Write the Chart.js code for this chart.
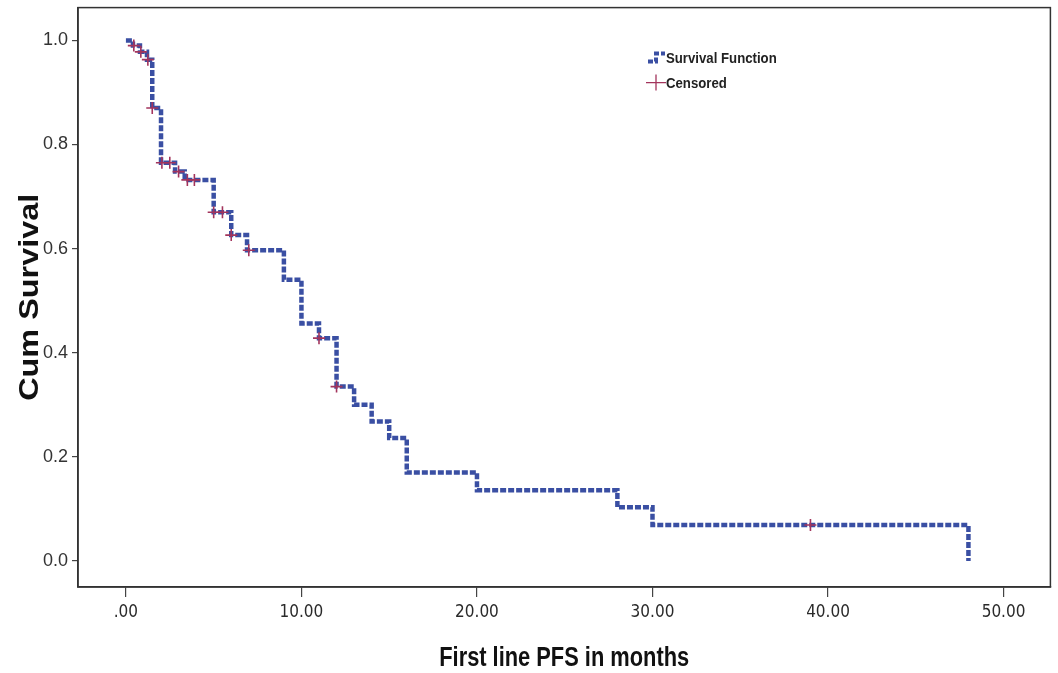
<!DOCTYPE html>
<html>
<head>
<meta charset="utf-8">
<script src="https://cdn.jsdelivr.net/npm/chart.js@4"></script>
<style>
  html, body { margin: 0; padding: 0; background: #fff; }
  #c { display: block; }
</style>
</head>
<body>
<canvas id="c" width="1058" height="673"></canvas>
<script>
// Kaplan-Meier step points (time in months, cumulative survival after the drop)
const kmTimes    = [0, 0.4, 0.8, 1.2, 1.5, 2.0, 2.8, 3.35, 5.0, 6.0, 6.9, 9.0, 10.0, 11.0, 12.0, 13.0, 14.0, 15.0, 16.0, 20.0, 28.0, 30.0, 48.0];
const kmSurvival = [1.0, 0.99, 0.978, 0.963, 0.87, 0.765, 0.748, 0.732, 0.67, 0.626, 0.597, 0.54, 0.456, 0.428, 0.335, 0.30, 0.268, 0.236, 0.17, 0.136, 0.103, 0.069, 0.0];

// Censored observations
const censorTimes    = [0.45, 0.85, 1.25, 1.5, 2.05, 2.5, 3.0, 3.5, 3.9, 5.0, 5.5, 6.0, 7.0, 11.0, 12.0, 39.0];
const censorSurvival = [0.99, 0.978, 0.963, 0.87, 0.765, 0.765, 0.748, 0.732, 0.732, 0.67, 0.67, 0.626, 0.597, 0.428, 0.335, 0.069];

// Axis ticks
const xTickValues = [0, 10, 20, 30, 40, 50];
const xTickLabels = ['.00', '10.00', '20.00', '30.00', '40.00', '50.00'];
const yTickValues = [0, 0.2, 0.4, 0.6, 0.8, 1.0];
const yTickLabels = ['0.0', '0.2', '0.4', '0.6', '0.8', '1.0'];

const legendLabels = ['Survival Function', 'Censored'];
const xTitle = 'First line PFS in months';
const yTitle = 'Cum Survival';

const LINE_COLOR = '#3a4fa3';
const CENSOR_COLOR = '#a3345c';
const CONDENSED = "'DejaVu Sans Condensed', 'Liberation Sans Narrow', 'Liberation Sans', sans-serif";
const SANS = "'Liberation Sans', Arial, sans-serif";

const kmData = kmTimes.map((t, i) => ({ x: t, y: kmSurvival[i] }));
const censorData = censorTimes.map((t, i) => ({ x: t, y: censorSurvival[i] }));

function drawScaledText(ctx, text, x, y, font, sx, rot) {
  ctx.save();
  ctx.translate(x, y);
  if (rot) ctx.rotate(rot);
  ctx.scale(sx, 1);
  ctx.font = font;
  ctx.fillText(text, 0, 0);
  ctx.restore();
}

const framePlugin = {
  id: 'frame',
  afterDraw(chart) {
    const { ctx, chartArea: a } = chart;
    ctx.save();
    ctx.strokeStyle = '#333';
    ctx.lineWidth = 1.5;
    ctx.strokeRect(a.left, a.top, a.right - a.left, a.bottom - a.top);

    // axis titles
    ctx.fillStyle = '#111';
    ctx.textBaseline = 'middle';
    ctx.textAlign = 'center';
    drawScaledText(ctx, xTitle, (a.left + a.right) / 2, 658, "bold 28px " + SANS, 0.78, 0);
    drawScaledText(ctx, yTitle, 31, (a.top + a.bottom) / 2, "bold 27px " + SANS, 1.2, -Math.PI / 2);

    // legend
    const lx = a.left + 570, ly = a.top + 50;
    ctx.lineWidth = 4;
    ctx.strokeStyle = LINE_COLOR;
    ctx.setLineDash([5, 2]);
    ctx.beginPath();
    ctx.moveTo(lx, ly + 4);
    ctx.lineTo(lx + 8, ly + 4);
    ctx.lineTo(lx + 8, ly - 4);
    ctx.lineTo(lx + 17, ly - 4);
    ctx.stroke();
    ctx.setLineDash([]);

    ctx.strokeStyle = CENSOR_COLOR;
    ctx.lineWidth = 1.3;
    ctx.beginPath();
    const cx = lx + 8, cy = ly + 25;
    ctx.moveTo(cx - 10, cy); ctx.lineTo(cx + 10, cy);
    ctx.moveTo(cx, cy - 8); ctx.lineTo(cx, cy + 8);
    ctx.stroke();

    ctx.fillStyle = '#222';
    ctx.textAlign = 'left';
    drawScaledText(ctx, legendLabels[0], lx + 18, ly + 1, "bold 15px " + SANS, 0.88, 0);
    drawScaledText(ctx, legendLabels[1], lx + 18, ly + 26, "bold 15px " + SANS, 0.88, 0);
    ctx.restore();
  }
};

new Chart(document.getElementById('c'), {
  data: {
    datasets: [
      {
        type: 'line',
        label: legendLabels[0],
        data: kmData,
        stepped: true,
        borderColor: LINE_COLOR,
        borderWidth: 4.5,
        borderDash: [6, 2],
        borderCapStyle: 'butt',
        pointRadius: 0,
        fill: false,
        order: 2
      },
      {
        type: 'scatter',
        label: legendLabels[1],
        data: censorData,
        pointStyle: 'cross',
        pointRadius: 6,
        pointBorderWidth: 1.6,
        borderColor: CENSOR_COLOR,
        backgroundColor: CENSOR_COLOR,
        order: 1
      }
    ]
  },
  options: {
    responsive: false,
    animation: false,
    devicePixelRatio: 1,
    layout: { padding: { top: 6, right: 4, left: 0, bottom: 0 } },
    plugins: { legend: { display: false }, tooltip: { enabled: false } },
    scales: {
      x: {
        type: 'linear',
        min: -2.73,
        max: 52.67,
        afterBuildTicks: s => { s.ticks = xTickValues.map(v => ({ value: v })); },
        afterFit: s => { s.height = 86; s.paddingLeft = 0; s.paddingRight = 0; },
        ticks: {
          callback: (v) => { const i = xTickValues.indexOf(v); return i >= 0 ? xTickLabels[i] : ''; },
          font: { family: CONDENSED, size: 17 },
          color: '#2a2a2a',
          padding: 5,
          maxRotation: 0,
          autoSkip: false
        },
        grid: { drawOnChartArea: false, drawTicks: true, tickLength: 10, color: '#444', lineWidth: 1.2 },
        border: { display: true, color: '#333', width: 1.5 },
        title: { display: false }
      },
      y: {
        type: 'linear',
        min: -0.05,
        max: 1.063,
        afterBuildTicks: s => { s.ticks = yTickValues.map(v => ({ value: v })); },
        afterFit: s => { s.width = 78; s.paddingTop = 0; s.paddingBottom = 0; },
        ticks: {
          callback: (v) => { const i = yTickValues.findIndex(t => Math.abs(t - v) < 1e-9); return i >= 0 ? yTickLabels[i] : ''; },
          font: { family: SANS, size: 18 },
          color: '#333',
          padding: 4
        },
        grid: { drawOnChartArea: false, drawTicks: true, tickLength: 6, color: '#444', lineWidth: 1.2 },
        border: { display: true, color: '#333', width: 1.5 },
        title: { display: false }
      }
    }
  },
  plugins: [framePlugin]
});
</script>
</body>
</html>
